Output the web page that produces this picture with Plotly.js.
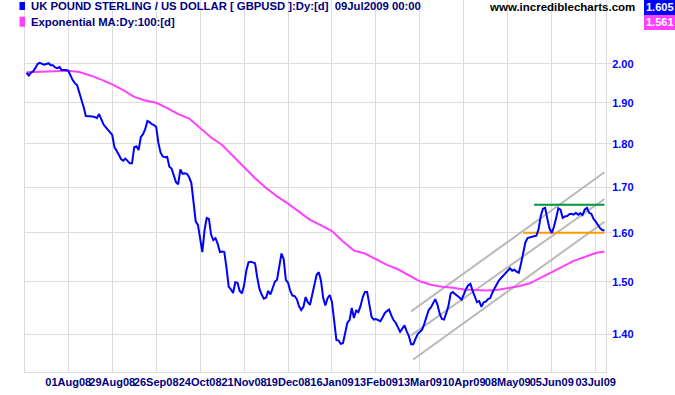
<!DOCTYPE html>
<html><head><meta charset="utf-8">
<script src="https://cdn.plot.ly/plotly-3.0.1.min.js"></script>
<style>html,body{margin:0;padding:0;background:#fff;}#chart{width:675px;height:395px;}</style>
</head><body><div id="chart"></div>
<script>
// Trading days (categories)
const dates = [
'2008-07-07','2008-07-08','2008-07-09','2008-07-10','2008-07-11',
'2008-07-14','2008-07-15','2008-07-16','2008-07-17','2008-07-18',
'2008-07-21','2008-07-22','2008-07-23','2008-07-24','2008-07-25',
'2008-07-28','2008-07-29','2008-07-30','2008-07-31','2008-08-01',
'2008-08-04','2008-08-05','2008-08-06','2008-08-07','2008-08-08',
'2008-08-11','2008-08-12','2008-08-13','2008-08-14','2008-08-15',
'2008-08-18','2008-08-19','2008-08-20','2008-08-21','2008-08-22',
'2008-08-25','2008-08-26','2008-08-27','2008-08-28','2008-08-29',
'2008-09-01','2008-09-02','2008-09-03','2008-09-04','2008-09-05',
'2008-09-08','2008-09-09','2008-09-10','2008-09-11','2008-09-12',
'2008-09-15','2008-09-16','2008-09-17','2008-09-18','2008-09-19',
'2008-09-22','2008-09-23','2008-09-24','2008-09-25','2008-09-26',
'2008-09-29','2008-09-30','2008-10-01','2008-10-02','2008-10-03',
'2008-10-06','2008-10-07','2008-10-08','2008-10-09','2008-10-10',
'2008-10-13','2008-10-14','2008-10-15','2008-10-16','2008-10-17',
'2008-10-20','2008-10-21','2008-10-22','2008-10-23','2008-10-24',
'2008-10-27','2008-10-28','2008-10-29','2008-10-30','2008-10-31',
'2008-11-03','2008-11-04','2008-11-05','2008-11-06','2008-11-07',
'2008-11-10','2008-11-11','2008-11-12','2008-11-13','2008-11-14',
'2008-11-17','2008-11-18','2008-11-19','2008-11-20','2008-11-21',
'2008-11-24','2008-11-25','2008-11-26','2008-11-27','2008-11-28',
'2008-12-01','2008-12-02','2008-12-03','2008-12-04','2008-12-05',
'2008-12-08','2008-12-09','2008-12-10','2008-12-11','2008-12-12',
'2008-12-15','2008-12-16','2008-12-17','2008-12-18','2008-12-19',
'2008-12-22','2008-12-23','2008-12-24','2008-12-25','2008-12-26',
'2008-12-29','2008-12-30','2008-12-31','2009-01-01','2009-01-02',
'2009-01-05','2009-01-06','2009-01-07','2009-01-08','2009-01-09',
'2009-01-12','2009-01-13','2009-01-14','2009-01-15','2009-01-16',
'2009-01-19','2009-01-20','2009-01-21','2009-01-22','2009-01-23',
'2009-01-26','2009-01-27','2009-01-28','2009-01-29','2009-01-30',
'2009-02-02','2009-02-03','2009-02-04','2009-02-05','2009-02-06',
'2009-02-09','2009-02-10','2009-02-11','2009-02-12','2009-02-13',
'2009-02-16','2009-02-17','2009-02-18','2009-02-19','2009-02-20',
'2009-02-23','2009-02-24','2009-02-25','2009-02-26','2009-02-27',
'2009-03-02','2009-03-03','2009-03-04','2009-03-05','2009-03-06',
'2009-03-09','2009-03-10','2009-03-11','2009-03-12','2009-03-13',
'2009-03-16','2009-03-17','2009-03-18','2009-03-19','2009-03-20',
'2009-03-23','2009-03-24','2009-03-25','2009-03-26','2009-03-27',
'2009-03-30','2009-03-31','2009-04-01','2009-04-02','2009-04-03',
'2009-04-06','2009-04-07','2009-04-08','2009-04-09','2009-04-10',
'2009-04-13','2009-04-14','2009-04-15','2009-04-16','2009-04-17',
'2009-04-20','2009-04-21','2009-04-22','2009-04-23','2009-04-24',
'2009-04-27','2009-04-28','2009-04-29','2009-04-30','2009-05-01',
'2009-05-04','2009-05-05','2009-05-06','2009-05-07','2009-05-08',
'2009-05-11','2009-05-12','2009-05-13','2009-05-14','2009-05-15',
'2009-05-18','2009-05-19','2009-05-20','2009-05-21','2009-05-22',
'2009-05-25','2009-05-26','2009-05-27','2009-05-28','2009-05-29',
'2009-06-01','2009-06-02','2009-06-03','2009-06-04','2009-06-05',
'2009-06-08','2009-06-09','2009-06-10','2009-06-11','2009-06-12',
'2009-06-15','2009-06-16','2009-06-17','2009-06-18','2009-06-19',
'2009-06-22','2009-06-23','2009-06-24','2009-06-25','2009-06-26',
'2009-06-29','2009-06-30','2009-07-01','2009-07-02','2009-07-03',
'2009-07-06','2009-07-07','2009-07-08','2009-07-09'
];
// GBPUSD daily close
const gbpusd = [
1.977,1.970,1.977,1.981,1.989,
2.000,2.003,2.000,1.998,2.000,
2.002,1.997,1.997,1.991,1.989,
1.992,1.984,1.984,1.984,1.982,
1.968,1.958,1.950,1.945,1.926,
1.910,1.889,1.867,1.867,1.867,
1.866,1.865,1.862,1.872,1.857,
1.847,1.840,1.834,1.829,1.821,
1.792,1.781,1.774,1.764,1.760,
1.765,1.759,1.754,1.754,1.792,
1.794,1.785,1.816,1.823,1.835,
1.855,1.852,1.847,1.845,1.840,
1.802,1.779,1.770,1.768,1.769,
1.746,1.742,1.727,1.711,1.706,
1.740,1.730,1.731,1.730,1.722,
1.709,1.671,1.624,1.617,1.591,
1.560,1.606,1.632,1.630,1.596,
1.585,1.589,1.577,1.560,1.561,
1.560,1.528,1.490,1.485,1.478,
1.499,1.498,1.482,1.477,1.493,
1.522,1.539,1.540,1.539,1.537,
1.508,1.486,1.475,1.467,1.469,
1.482,1.475,1.488,1.500,1.504,
1.532,1.557,1.546,1.504,1.498,
1.482,1.473,1.472,1.466,1.452,
1.445,1.451,1.470,1.460,1.455,
1.474,1.496,1.514,1.519,1.502,
1.468,1.454,1.468,1.474,1.460,
1.426,1.389,1.388,1.382,1.383,
1.405,1.421,1.426,1.449,1.430,
1.444,1.441,1.453,1.470,1.480,
1.480,1.452,1.432,1.427,1.428,
1.426,1.424,1.431,1.439,1.443,
1.446,1.435,1.426,1.421,1.413,
1.404,1.410,1.416,1.405,1.396,
1.381,1.381,1.391,1.400,1.404,
1.408,1.419,1.434,1.445,1.450,
1.458,1.466,1.455,1.438,1.428,
1.427,1.439,1.453,1.477,1.480,
1.476,1.473,1.469,1.465,1.476,
1.486,1.493,1.496,1.482,1.470,
1.460,1.462,1.451,1.460,1.461,
1.466,1.468,1.479,1.486,1.495,
1.503,1.508,1.512,1.518,1.522,
1.527,1.522,1.524,1.520,1.518,
1.536,1.560,1.580,1.589,1.591,
1.592,1.593,1.594,1.608,1.636,
1.652,1.654,1.630,1.609,1.600,
1.613,1.632,1.653,1.650,1.632,
1.635,1.636,1.640,1.641,1.639,
1.643,1.639,1.642,1.638,1.650,
1.654,1.643,1.641,1.630,1.624,
1.616,1.610,1.606,1.605
];
// Exponential MA 100 (weekly readings)
const emaDates = ['2008-07-07','2008-07-11','2008-07-18','2008-07-25','2008-08-01','2008-08-08','2008-08-15','2008-08-22','2008-08-29',
'2008-09-05','2008-09-12','2008-09-19','2008-09-26','2008-10-03','2008-10-10','2008-10-17','2008-10-24','2008-10-31',
'2008-11-07','2008-11-14','2008-11-21','2008-11-28','2008-12-05','2008-12-12','2008-12-19','2008-12-26','2009-01-02',
'2009-01-09','2009-01-16','2009-01-23','2009-01-30','2009-02-06','2009-02-13','2009-02-20','2009-02-27','2009-03-06',
'2009-03-13','2009-03-20','2009-03-27','2009-04-03','2009-04-10','2009-04-17','2009-04-24','2009-05-01','2009-05-08',
'2009-05-15','2009-05-22','2009-05-29','2009-06-05','2009-06-12','2009-06-19','2009-06-26','2009-07-03','2009-07-09'];
const ema100 = [1.978,1.979,1.981,1.982,1.982,1.979,1.970,1.959,1.947,
1.932,1.915,1.906,1.900,1.887,1.872,1.861,1.837,1.815,
1.797,1.771,1.744,1.720,1.698,1.679,1.663,1.646,1.628,
1.616,1.604,1.582,1.563,1.557,1.545,1.534,1.525,1.513,
1.501,1.494,1.490,1.488,1.485,1.484,1.483,1.484,1.488,
1.491,1.497,1.508,1.520,1.531,1.542,1.550,1.558,1.561];
// Trend channel and horizontal levels
const channelUpperX = ['2009-03-09','2009-07-09'], channelUpperY = [1.4424,1.7336];
const channelMidX = ['2009-03-09','2009-07-09'], channelMidY = [1.3975,1.6733];
const channelLowX = ['2009-03-10','2009-07-09'], channelLowY = [1.3536,1.6239];
const resistanceX = ['2009-05-26','2009-07-09'], resistanceY = [1.6608,1.6608];
const supportX = ['2009-05-19','2009-07-09'], supportY = [1.6005,1.6005];
// Axis ticks
const tickDates = ['2008-08-01','2008-08-29','2008-09-26','2008-10-24','2008-11-21','2008-12-19','2009-01-16','2009-02-13','2009-03-13','2009-04-10','2009-05-08','2009-06-05','2009-07-03'];
const tickLabels = ['01Aug08','29Aug08','26Sep08','24Oct08','21Nov08','19Dec08','16Jan09','13Feb09','13Mar09','10Apr09','08May09','05Jun09','03Jul09'];
const yTicks = [1.4,1.5,1.6,1.7,1.8,1.9,2.0];
const yTickLabels = ['1.40','1.50','1.60','1.70','1.80','1.90','2.00'];
const seriesName = 'UK POUND STERLING / US DOLLAR [ GBPUSD ]:Dy:[d]\u00a0\u00a009Jul2009 00:00';
const emaName = 'Exponential MA:Dy:100:[d]';
const lastClose = '1.605', lastEma = '1.561';

const FONT = 'Liberation Sans, Arial, sans-serif';
const GRID = '#dcdcdc';
const gray = {color:'#b9b9b9', width:2};
const traces = [
  {x:channelUpperX, y:channelUpperY, mode:'lines', line:gray, hoverinfo:'skip'},
  {x:channelMidX, y:channelMidY, mode:'lines', line:gray, hoverinfo:'skip'},
  {x:channelLowX, y:channelLowY, mode:'lines', line:gray, hoverinfo:'skip'},
  {x:resistanceX, y:resistanceY, mode:'lines', line:{color:'#00963a', width:2}},
  {x:supportX, y:supportY, mode:'lines', line:{color:'#ff9900', width:2}},
  {x:emaDates, y:ema100, mode:'lines', line:{color:'#ff40ff', width:2}},
  {x:dates, y:gbpusd, mode:'lines', line:{color:'#0000ff', width:2}}
];
const W = 581, H = 372, L = 25;
const px = v => (v - L) / W;
const py = v => (H - v) / H;
const layout = {
  width:675, height:395,
  margin:{l:25, r:69, t:0, b:23, pad:0},
  paper_bgcolor:'#ffffff', plot_bgcolor:'#ffffff',
  showlegend:false,
  xaxis:{type:'category', categoryorder:'array', categoryarray:dates,
    range:[-0.70, 263.69], tickmode:'array', tickvals:tickDates, ticktext:tickLabels,
    showgrid:true, gridcolor:GRID, gridwidth:1, ticks:'', showline:true, linecolor:GRID, linewidth:1,
    zeroline:false, tickangle:0,
    tickfont:{family:FONT, size:11, color:'#000080', weight:'bold'}},
  yaxis:{type:'log', side:'right', range:[0.12433, 0.33774], tickmode:'array', tickvals:yTicks, ticktext:yTickLabels,
    showgrid:true, gridcolor:GRID, gridwidth:1, ticks:'outside', ticklen:5, tickcolor:GRID,
    ticklabelstandoff:-2,
    showline:true, mirror:true, linecolor:GRID, linewidth:1, zeroline:false,
    tickfont:{family:FONT, size:11, color:'#0000ff', weight:'bold'}},
  shapes:[
    {type:'rect', xref:'paper', yref:'paper', x0:px(19.5), x1:px(25), y0:py(10), y1:py(2), fillcolor:'#0000ff', line:{width:0}},
    {type:'rect', xref:'paper', yref:'paper', x0:px(19.5), x1:px(25), y0:py(26.7), y1:py(16.7), fillcolor:'#ff40ff', line:{width:0}},
    {type:'rect', xref:'paper', yref:'paper', x0:px(644), x1:px(675), y0:py(15), y1:py(0), fillcolor:'#0000ff', line:{width:0}},
    {type:'rect', xref:'paper', yref:'paper', x0:px(644), x1:px(675), y0:py(30), y1:py(15), fillcolor:'#ff40ff', line:{width:0}}
  ],
  annotations:[
    {xref:'paper', yref:'paper', x:px(28.5), y:py(6.5), xanchor:'left', yanchor:'middle', showarrow:false, text:seriesName,
      font:{family:FONT, size:11.3, color:'#000080', weight:'bold'}},
    {xref:'paper', yref:'paper', x:px(28.5), y:py(22), xanchor:'left', yanchor:'middle', showarrow:false, text:emaName,
      font:{family:FONT, size:11.3, color:'#000080', weight:'bold'}},
    {xref:'paper', yref:'paper', x:px(637), y:py(7), xanchor:'right', yanchor:'middle', showarrow:false, text:'www.incrediblecharts.com',
      font:{family:FONT, size:11.5, color:'#000000', weight:'bold'}},
    {xref:'paper', yref:'paper', x:px(659.5), y:py(7.5), xanchor:'center', yanchor:'middle', showarrow:false, text:lastClose,
      font:{family:FONT, size:11, color:'#ffffff', weight:'bold'}},
    {xref:'paper', yref:'paper', x:px(659.5), y:py(22.5), xanchor:'center', yanchor:'middle', showarrow:false, text:lastEma,
      font:{family:FONT, size:11, color:'#ffffff', weight:'bold'}}
  ]
};
Plotly.newPlot('chart', traces, layout, {staticPlot:true, displayModeBar:false});
</script>
</body></html>
